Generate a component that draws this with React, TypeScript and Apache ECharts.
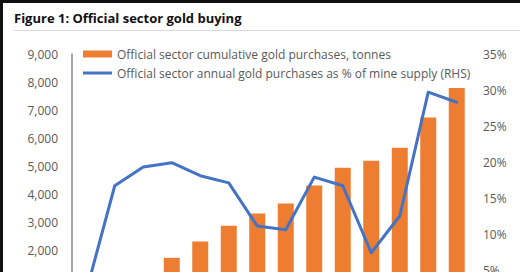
import React, { useEffect, useRef } from "react";
import * as echarts from "echarts";

const years = ["2010", "2011", "2012", "2013", "2014", "2015", "2016", "2017", "2018", "2019", "2020", "2021", "2022", "2023"];
const cumulativeTonnes = [80, 560, 1130, 1720, 2300, 2870, 3300, 3660, 4300, 4940, 5190, 5650, 6730, 7790];
const pctOfMineSupply = [2.0, 16.7, 19.3, 19.9, 18.1, 17.1, 11.1, 10.6, 17.9, 16.7, 7.4, 12.5, 29.7, 28.3];
const leftTicks = { min: 0, max: 9000, interval: 1000 };
const rightTicks = { min: 0, max: 35, interval: 5 };
const seriesNames = [
  "Official sector cumulative gold purchases, tonnes",
  "Official sector annual gold purchases as % of mine supply (RHS)",
];
const titleText = "Figure 1: Official sector gold buying";

const FONT = "'Open Sans', 'Noto Sans', sans-serif";
const GREY = "#595959";

export default function App() {
  const ref = useRef<HTMLDivElement>(null);
  useEffect(() => {
    if (!ref.current) return;
    const chart = echarts.init(ref.current, undefined, { renderer: "svg" });
    chart.setOption({
      animation: false,
      backgroundColor: "#ffffff",
      textStyle: { fontFamily: FONT },
      graphic: [
        { type: "rect", shape: { x: 0, y: 0, width: 3, height: 340 }, style: { fill: "#111111" }, z: 100 },
        { type: "rect", shape: { x: 0, y: 0, width: 520, height: 3 }, style: { fill: "#111111" }, z: 100 },
        { type: "line", shape: { x1: 14, y1: 30.5, x2: 520, y2: 30.5 }, style: { stroke: "#d9d9d9", lineWidth: 1 } },
        {
          type: "text",
          x: 14,
          y: 18,
          style: {
            text: titleText,
            fontSize: 13,
            fontWeight: "bold",
            fill: "#111111",
            fontFamily: FONT,
            verticalAlign: "middle",
            align: "left",
          },
        },
      ],
      legend: {
        orient: "vertical",
        left: 83,
        top: 46,
        padding: 0,
        itemWidth: 29,
        itemHeight: 7,
        itemGap: 3,
        selectedMode: false,
        textStyle: { fontSize: 12, color: GREY, fontFamily: FONT, lineHeight: 16 },
        data: [
          { name: seriesNames[0], icon: "rect" },
          {
            name: seriesNames[1],
            icon: "path://M0,0 L0,7 M0,2 L29,2 L29,5 L0,5 Z",
            itemStyle: { borderWidth: 0, color: "#4472C4" },
          },
        ],
      },
      grid: { left: 72, right: 49, top: 54, bottom: 34, containLabel: false },
      xAxis: {
        type: "category",
        data: years,
        axisLine: { show: false },
        axisTick: { show: false },
        axisLabel: { show: false },
      },
      yAxis: [
        {
          type: "value",
          min: leftTicks.min,
          max: leftTicks.max,
          interval: leftTicks.interval,
          splitLine: { show: false },
          axisTick: { show: false },
          axisLine: { show: true, lineStyle: { color: "#8a8a8a", width: 1.5 } },
          axisLabel: {
            margin: 14,
            fontSize: 12,
            color: GREY,
            fontFamily: FONT,
            formatter: (v: number) => v.toLocaleString("en-US"),
          },
        },
        {
          type: "value",
          min: rightTicks.min,
          max: rightTicks.max,
          interval: rightTicks.interval,
          position: "right",
          splitLine: { show: false },
          axisTick: { show: false },
          axisLine: { show: false },
          axisLabel: { margin: 12, fontSize: 12, color: GREY, fontFamily: FONT, formatter: "{value}%" },
        },
      ],
      series: [
        {
          name: seriesNames[0],
          type: "bar",
          data: cumulativeTonnes,
          barWidth: 16,
          itemStyle: { color: "#ED7D31" },
          yAxisIndex: 0,
        },
        {
          name: seriesNames[1],
          type: "line",
          data: pctOfMineSupply,
          yAxisIndex: 1,
          symbol: "none",
          lineStyle: { color: "#4472C4", width: 3, join: "round", cap: "round" },
          itemStyle: { color: "#4472C4" },
          z: 3,
        },
      ],
    });
    return () => chart.dispose();
  }, []);
  return (
    <div style={{ position: "fixed", left: 0, top: 0, width: 520, height: 272, overflow: "hidden", background: "#fff" }}>
      <div ref={ref} style={{ width: 520, height: 340 }} />
    </div>
  );
}
